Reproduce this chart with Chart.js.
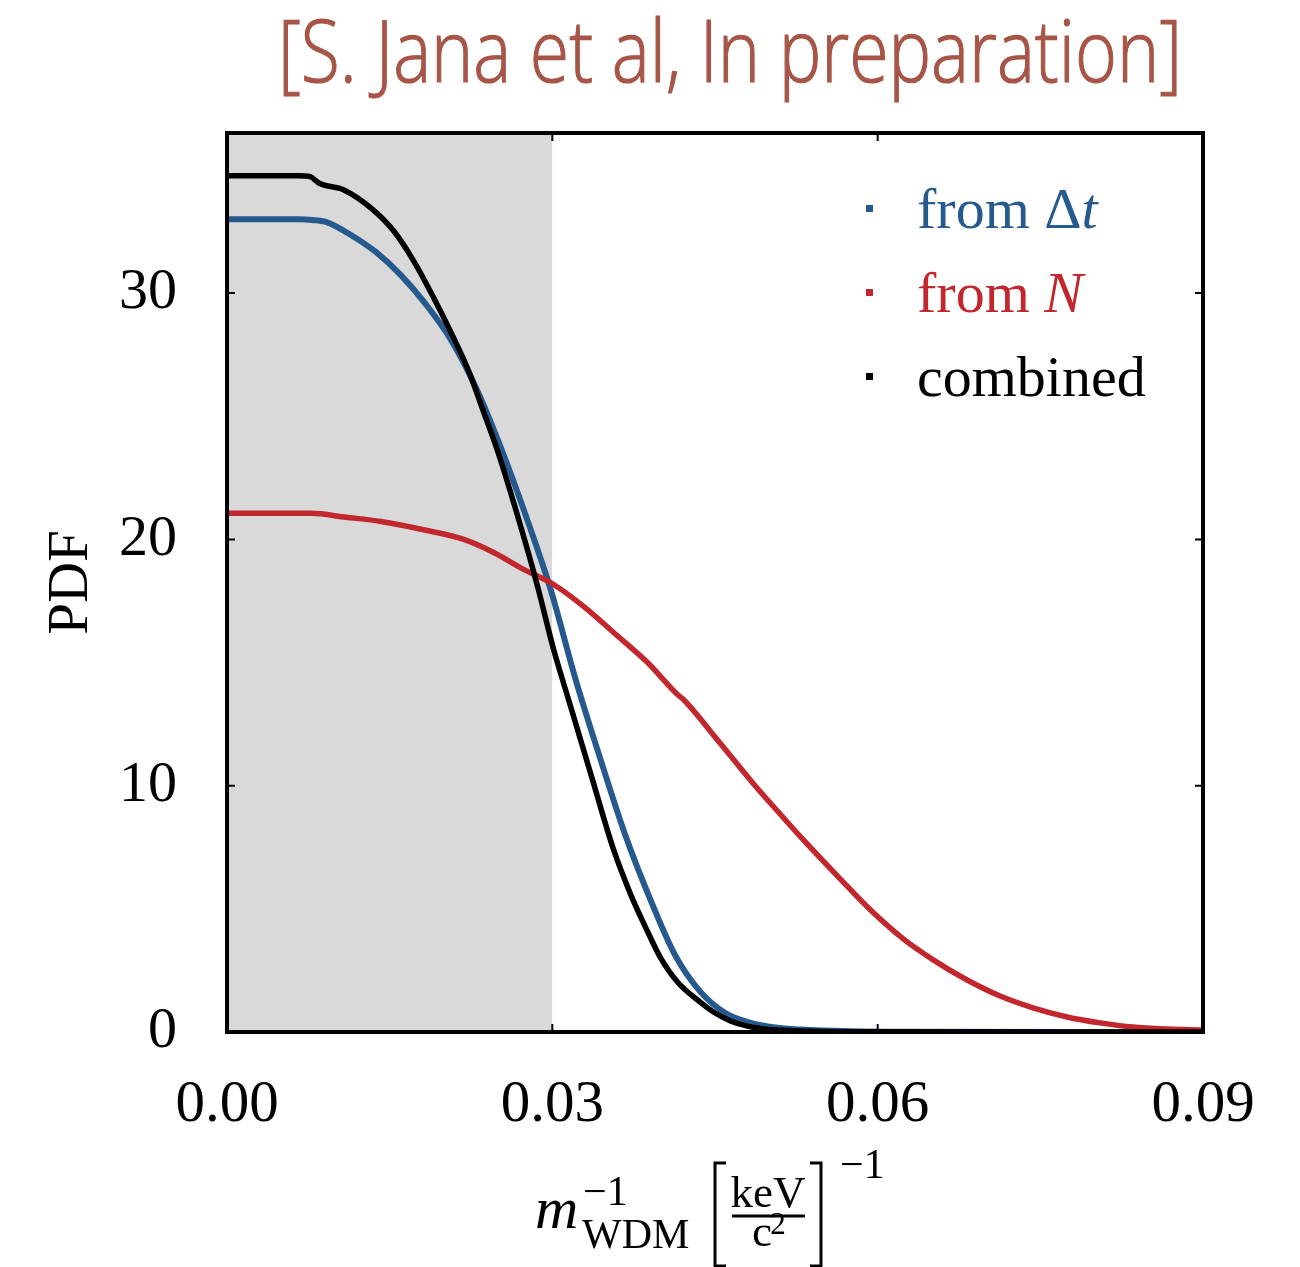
<!DOCTYPE html>
<html>
<head>
<meta charset="utf-8">
<script src="https://cdn.jsdelivr.net/npm/chart.js@4.4.1/dist/chart.umd.min.js"></script>
<style>
  html, body { margin: 0; padding: 0; background: #fff; }
</style>
</head>
<body>
<canvas id="chart" width="1300" height="1267"></canvas>
<script>
// PDF of 1/m_WDM: timing constraint, count constraint, combined

const X_TICKS = [0, 0.03, 0.06, 0.09];
const Y_TICKS = [0, 10, 20, 30];
const Y_MAX = 36.5;
const SHADE_X = [0, 0.03];

// from Δt (blue)
const DT_X   = [0, 0.00663, 0.00783, 0.00912, 0.01142, 0.01372, 0.01603, 0.01833, 0.02063, 0.02294, 0.02524, 0.02754, 0.02984, 0.03215, 0.03445, 0.03675, 0.03905, 0.04136, 0.04366, 0.04596, 0.04827, 0.05057, 0.05287, 0.05748, 0.06208, 0.09];
const DT_PDF = [33.0, 33.0, 32.97, 32.89, 32.36, 31.67, 30.73, 29.55, 28.12, 26.18, 23.74, 20.98, 17.97, 14.31, 11.06, 7.97, 5.37, 3.09, 1.63, 0.77, 0.37, 0.18, 0.10, 0.03, 0.01, 0.0];

// from N (red)
const N_X   = [0, 0.00774, 0.01096, 0.01418, 0.01879, 0.02183, 0.02459, 0.02736, 0.03012, 0.03288, 0.03565, 0.03878, 0.04154, 0.04209, 0.0455, 0.04854, 0.05131, 0.05315, 0.05628, 0.05932, 0.06236, 0.06512, 0.06825, 0.07129, 0.07433, 0.07746, 0.0805, 0.08354, 0.08668, 0.09];
const N_PDF = [21.06, 21.06, 20.9, 20.73, 20.33, 20.0, 19.47, 18.78, 18.17, 17.28, 16.22, 15.0, 13.7, 13.5, 11.71, 10.08, 8.7, 7.8, 6.34, 4.96, 3.78, 2.93, 2.11, 1.46, 0.98, 0.61, 0.37, 0.2, 0.12, 0.08];

// combined (black)
const COMB_X   = [0, 0.00654, 0.00774, 0.00801, 0.00847, 0.01078, 0.01326, 0.01538, 0.01722, 0.01907, 0.02091, 0.02229, 0.02367, 0.02496, 0.02708, 0.02864, 0.03012, 0.03141, 0.03353, 0.03565, 0.03721, 0.03878, 0.03997, 0.04154, 0.04338, 0.04486, 0.04642, 0.04799, 0.05011, 0.05287, 0.05748, 0.09];
const COMB_PDF = [34.76, 34.76, 34.72, 34.63, 34.47, 34.19, 33.46, 32.52, 31.3, 29.8, 28.17, 26.83, 25.16, 23.58, 20.53, 18.09, 15.53, 13.62, 10.5, 7.4, 5.6, 4.08, 3.02, 2.03, 1.30, 0.81, 0.45, 0.24, 0.10, 0.04, 0.01, 0.0];

const TITLE = "[S. Jana et al, In preparation]";
const SERIF = '"Liberation Serif", "Times New Roman", serif';

const COLORS = {
  dt: "#265a8e",
  n: "#c1272d",
  comb: "#000000",
  shade: "#d9d9d9",
  title: "#a65547"
};

const pts = (xs, ys) => xs.map((x, i) => ({ x: x, y: ys[i] }));

/**
 * Title, frame with inward ticks, legend and the math x label.
 */
const decorations = {
  id: "decorations",
  afterDraw(chart) {
    const ctx = chart.ctx;
    const a = chart.chartArea;
    const xs = chart.scales.x;
    const ys = chart.scales.y;

    // title, squeezed horizontally like the condensed original
    ctx.save();
    ctx.font = '300 87px "Open Sans"';
    const tw = ctx.measureText(TITLE).width;
    ctx.translate(278, 82);
    ctx.scale(904 / tw, 1);
    ctx.fillStyle = COLORS.title;
    ctx.strokeStyle = COLORS.title;
    ctx.lineWidth = 1.2;
    ctx.textBaseline = "alphabetic";
    ctx.fillText(TITLE, 0, 0);
    ctx.strokeText(TITLE, 0, 0);
    ctx.restore();

    // frame
    ctx.save();
    ctx.strokeStyle = "#000";
    ctx.lineWidth = 4;
    ctx.strokeRect(a.left, a.top, a.right - a.left, a.bottom - a.top);
    ctx.lineWidth = 2;
    const tl = 8;
    ctx.beginPath();
    X_TICKS.slice(1, -1).forEach(v => {
      const px = xs.getPixelForValue(v);
      ctx.moveTo(px, a.bottom); ctx.lineTo(px, a.bottom - tl);
      ctx.moveTo(px, a.top); ctx.lineTo(px, a.top + tl);
    });
    Y_TICKS.slice(1).forEach(v => {
      const py = ys.getPixelForValue(v);
      ctx.moveTo(a.left, py); ctx.lineTo(a.left + tl, py);
      ctx.moveTo(a.right, py); ctx.lineTo(a.right - tl, py);
    });
    ctx.stroke();
    ctx.restore();

    // legend
    ctx.save();
    ctx.textBaseline = "alphabetic";
    const rows = [
      { color: COLORS.dt, parts: [["from ", false], ["\u0394", false], ["t", true]] },
      { color: COLORS.n, parts: [["from ", false], ["N", true]] },
      { color: COLORS.comb, parts: [["combined", false]] }
    ];
    rows.forEach((r, i) => {
      const base = 228 + i * 84;
      ctx.fillStyle = r.color;
      ctx.fillRect(866, base - 23, 7, 7);
      let x = 917;
      r.parts.forEach(([txt, it]) => {
        ctx.font = (it ? "italic " : "") + "58px " + SERIF;
        ctx.fillText(txt, x, base);
        x += ctx.measureText(txt).width;
      });
    });
    ctx.restore();

    // x label: m_WDM^-1 [keV / c^2]^-1
    ctx.save();
    ctx.fillStyle = "#000";
    ctx.strokeStyle = "#000";
    ctx.textBaseline = "alphabetic";
    ctx.font = "italic 60px " + SERIF;
    ctx.fillText("m", 535, 1228);
    ctx.font = "42px " + SERIF;
    ctx.fillText("WDM", 582, 1248);
    ctx.fillText("\u22121", 583, 1205);
    ctx.font = "45px " + SERIF;
    ctx.textAlign = "center";
    ctx.fillText("keV", 768, 1207);
    ctx.fillText("c", 762, 1246);
    ctx.font = "31px " + SERIF;
    ctx.fillText("2", 778, 1234);
    ctx.textAlign = "left";
    ctx.lineWidth = 3;
    ctx.beginPath();
    ctx.moveTo(732, 1216); ctx.lineTo(805, 1216);
    ctx.stroke();
    ctx.beginPath();
    ctx.moveTo(726, 1163); ctx.lineTo(715, 1163); ctx.lineTo(715, 1266); ctx.lineTo(726, 1266);
    ctx.moveTo(810, 1163); ctx.lineTo(821, 1163); ctx.lineTo(821, 1266); ctx.lineTo(810, 1266);
    ctx.stroke();
    ctx.font = "42px " + SERIF;
    ctx.fillText("\u22121", 840, 1178);
    ctx.restore();
  }
};

new Chart(document.getElementById("chart").getContext("2d"), {
  type: "line",
  data: {
    datasets: [
      {
        label: "shade",
        data: pts(SHADE_X, SHADE_X.map(() => Y_MAX)),
        borderWidth: 0,
        backgroundColor: COLORS.shade,
        fill: "origin",
        pointRadius: 0,
        order: 10
      },
      {
        label: "from \u0394t",
        data: pts(DT_X, DT_PDF),
        borderColor: COLORS.dt,
        borderWidth: 6,
        pointRadius: 0,
        cubicInterpolationMode: "monotone",
        fill: false,
        order: 3
      },
      {
        label: "from N",
        data: pts(N_X, N_PDF),
        borderColor: COLORS.n,
        borderWidth: 5.5,
        pointRadius: 0,
        cubicInterpolationMode: "monotone",
        fill: false,
        order: 2
      },
      {
        label: "combined",
        data: pts(COMB_X, COMB_PDF),
        borderColor: COLORS.comb,
        borderWidth: 5.5,
        pointRadius: 0,
        cubicInterpolationMode: "monotone",
        fill: false,
        order: 1
      }
    ]
  },
  options: {
    responsive: false,
    animation: false,
    devicePixelRatio: 1,
    layout: { padding: { top: 133, right: 97, left: 0, bottom: 0 } },
    plugins: {
      legend: { display: false },
      tooltip: { enabled: false }
    },
    scales: {
      x: {
        type: "linear",
        min: 0,
        max: 0.09,
        afterBuildTicks: s => { s.ticks = X_TICKS.map(v => ({ value: v })); },
        afterFit: s => { s.height = 235; },
        ticks: {
          callback: v => v.toFixed(2),
          font: { family: SERIF, size: 59 },
          color: "#000",
          padding: 30,
          maxRotation: 0
        },
        grid: { display: false },
        border: { display: false }
      },
      y: {
        type: "linear",
        min: 0,
        max: Y_MAX,
        afterBuildTicks: s => { s.ticks = Y_TICKS.map(v => ({ value: v })); },
        afterFit: s => { s.width = 227; },
        ticks: {
          callback: v => String(v),
          font: { family: SERIF, size: 58 },
          color: "#000",
          padding: 42
        },
        title: {
          display: true,
          text: "PDF",
          font: { family: SERIF, size: 57 },
          color: "#000",
          padding: { top: 38, bottom: 0 }
        },
        grid: { display: false },
        border: { display: false }
      }
    }
  },
  plugins: [decorations]
});
</script>
</body>
</html>
